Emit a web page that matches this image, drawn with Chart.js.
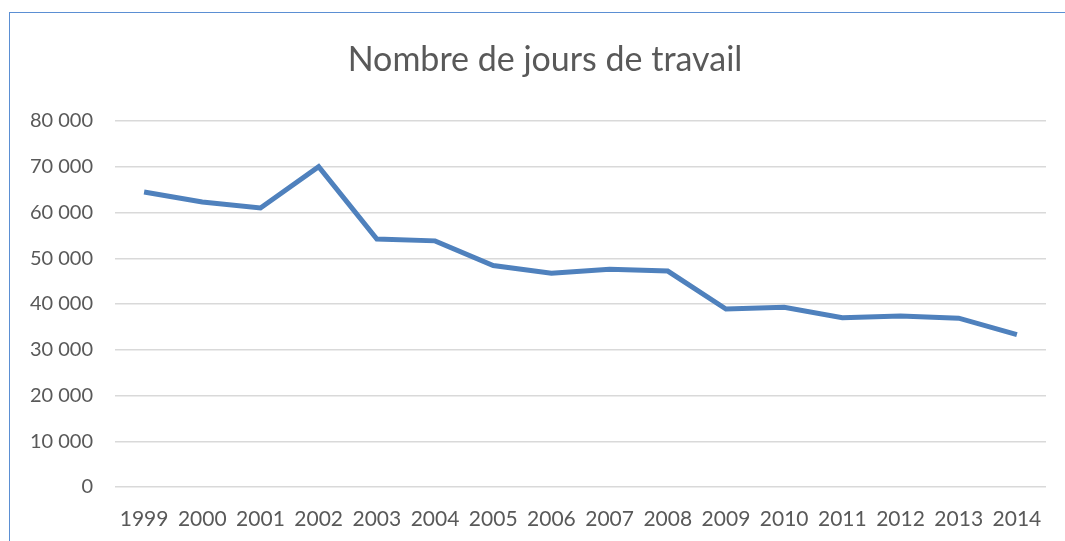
<!DOCTYPE html>
<html>
<head>
<meta charset="utf-8">
<script src="https://cdn.jsdelivr.net/npm/chart.js@4"></script>
<style>
  body { margin: 0; background: #fff; overflow: hidden; }
  #frame {
    position: absolute; left: 9px; top: 12px; width: 1200px; height: 700px;
    border-left: 1.5px solid #5b8fd3; border-top: 1.5px solid #5b8fd3;
  }
  #chart { position: absolute; left: 0; top: 0; }
</style>
</head>
<body>
<div id="frame"></div>
<canvas id="chart" width="1065" height="541"></canvas>
<script>
// Years on the x axis
const years = ['1999', '2000', '2001', '2002', '2003', '2004', '2005', '2006',
               '2007', '2008', '2009', '2010', '2011', '2012', '2013', '2014'];

// Working days per year
const workDays = [64500, 62300, 61000, 70000, 54200, 53800, 48400, 46700,
                  47600, 47200, 38900, 39300, 37000, 37400, 36900, 33300];

const yTicks = [0, 10000, 20000, 30000, 40000, 50000, 60000, 70000, 80000];

const chartTitle = 'Nombre de jours de travail';

const fontFamily = 'Lato, "Open Sans", sans-serif';

function formatThousands(v) {
    return v.toString().replace(/\B(?=(\d{3})+(?!\d))/g, ' ');
}

// the original title sits centred on the frame, not on the plot, so draw it by hand
const frameTitle = {
    id: 'frameTitle',
    afterDraw(chart) {
        const c = chart.ctx;
        c.save();
        c.font = '34px ' + fontFamily;
        c.fillStyle = '#595959';
        c.textAlign = 'center';
        c.textBaseline = 'middle';
        c.fillText(chartTitle, 545, 60);
        c.restore();
    }
};

const ctx = document.getElementById('chart').getContext('2d');
new Chart(ctx, {
    type: 'line',
    data: {
        labels: years,
        datasets: [{
            data: workDays,
            borderColor: '#4f81bd',
            borderWidth: 5,
            pointRadius: 0,
            tension: 0,
            fill: false
        }]
    },
    plugins: [frameTitle],
    options: {
        responsive: false,
        animation: false,
        layout: { padding: { left: 0, right: 19, top: 121, bottom: 0 } },
        plugins: {
            legend: { display: false },
            tooltip: { enabled: false },
            title: { display: false }
        },
        scales: {
            x: {
                offset: true,
                grid: { display: false },
                border: { display: false },
                ticks: {
                    color: '#595959',
                    font: { family: fontFamily, size: 21 },
                    maxRotation: 0,
                    autoSkip: false,
                    padding: 12
                },
                afterFit: axis => { axis.height = 54; }
            },
            y: {
                min: 0,
                max: 80000,
                afterBuildTicks: axis => { axis.ticks = yTicks.map(v => ({ value: v })); },
                grid: { color: '#d9d9d9', lineWidth: 1.5, drawTicks: false },
                border: { display: false },
                ticks: {
                    color: '#595959',
                    font: { family: fontFamily, size: 20 },
                    padding: 22,
                    callback: v => formatThousands(v)
                },
                afterFit: axis => { axis.width = 115; }
            }
        }
    }
});
</script>
</body>
</html>
